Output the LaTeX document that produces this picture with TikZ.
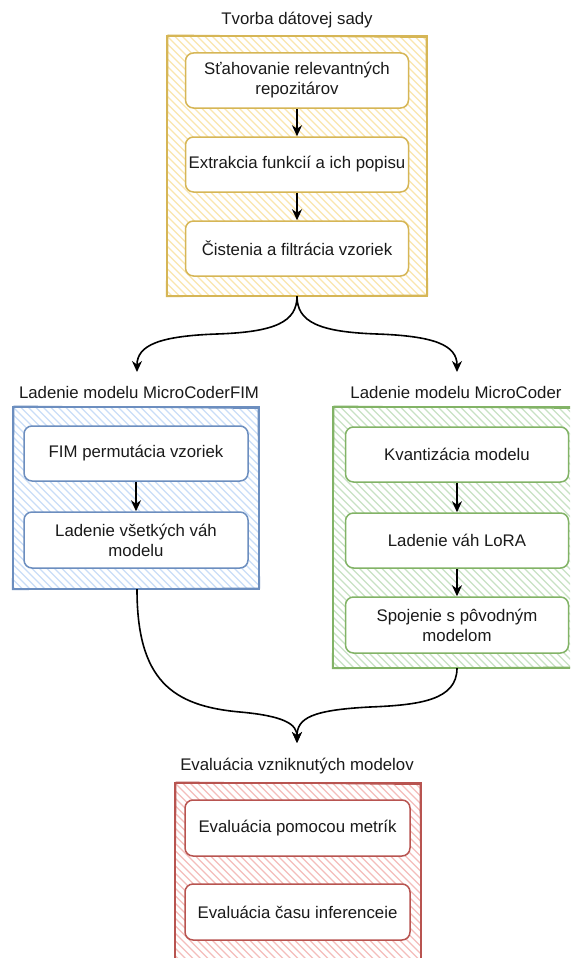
\documentclass[tikz,border=0pt]{standalone}
\usepackage{fontspec}
\setmainfont{Liberation Sans}
\usetikzlibrary{arrows.meta}
\definecolor{yS}{HTML}{D6B656}\definecolor{yF}{HTML}{FAE6AE}
\definecolor{bS}{HTML}{6C8EBF}\definecolor{bF}{HTML}{C9DDF8}
\definecolor{gS}{HTML}{82B366}\definecolor{gF}{HTML}{C8E2C4}
\definecolor{rS}{HTML}{B85450}\definecolor{rF}{HTML}{F4BDBB}
\definecolor{txt}{HTML}{1A1A1A}
\newcommand\myhatch[5]{%
  \begin{scope}
    \clip (#1,#2) rectangle (#3,#4);
    \foreach \k in {0,7.5,...,560} \draw[#5,line width=1.4pt] ({#1-300+\k},#2) -- ++(300,300);
  \end{scope}}
\newcommand\myframe[5]{%
  \draw[#5,line width=1.5pt] (#1,#2) rectangle (#3,#4);
  \draw[#5,line width=1pt] ({#1+1},{#2-1}) -- ({#3-1},{#2+1.5}) -- ({#3+0.6},{#4-1}) -- ({#1-0.6},{#4+0.6}) -- cycle;}
\tikzset{
  box/.style={draw, fill=white, rounded corners=8pt, minimum width=223pt, minimum height=55pt,
    line width=1.5pt, align=center, text=txt, font=\fontsize{16.8}{20}\selectfont, inner sep=2pt},
  ttl/.style={text=txt, font=\fontsize{16.8}{20}\selectfont, inner sep=0pt},
  cont/.style={inner sep=0pt},
  arr/.style={-{Stealth[length=11pt,width=10pt,inset=3.5pt]}, line width=1.6pt, black},
}
\begin{document}
\begin{tikzpicture}[x=1pt,y=-1pt]
\useasboundingbox (0,0) rectangle (570,958);
\fill[white] (0,0) rectangle (570,958);
\clip (0,0) rectangle (570,958);
% hatching and frames
\myhatch{167}{36}{427}{296}{yF}
\myhatch{13}{407}{259}{589}{bF}
\myhatch{333}{407}{580}{668}{gF}
\myhatch{175}{783}{421}{975}{rF}
\myframe{167}{36}{427}{296}{yS}
\myframe{13}{407}{259}{589}{bS}
\myframe{333}{407}{580}{668}{gS}
\myframe{175}{783}{421}{975}{rS}
% container anchors
\node[cont, minimum width=260pt, minimum height=260pt] (yc) at (297,166) {};
\node[cont, minimum width=246pt, minimum height=182pt] (bc) at (137,498) {};
\node[cont, minimum width=247pt, minimum height=261pt] (gc) at (457,537.5) {};
\node[cont, minimum width=246pt, minimum height=192pt] (rc) at (298,879) {};
% titles
\node[ttl] (yt) at (297,20) {Tvorba dátovej sady};
\node[ttl] (bt) at (139,392) {Ladenie modelu MicroCoderFIM};
\node[ttl] (gt) at (456,392) {Ladenie modelu MicroCoder};
\node[ttl] (rt) at (297,766) {Evaluácia vzniknutých modelov};
% inner boxes
\node[box, draw=yS] (y1) at (297,80.5) {Sťahovanie relevantných\\repozitárov};
\node[box, draw=yS] (y2) at (297,164.5) {Extrakcia funkcií a ich popisu};
\node[box, draw=yS] (y3) at (297,248.5) {Čistenia a filtrácia vzoriek};
\node[box, draw=bS, minimum width=224pt] (b1) at (136,453.5) {FIM permutácia vzoriek};
\node[box, draw=bS, minimum width=224pt, minimum height=56pt] (b2) at (136,540) {Ladenie všetkých váh\\modelu};
\node[box, draw=gS] (g1) at (457,454.5) {Kvantizácia modelu};
\node[box, draw=gS] (g2) at (457,540.5) {Ladenie váh LoRA};
\node[box, draw=gS, minimum height=56pt] (g3) at (457,625) {Spojenie s pôvodným\\modelom};
\node[box, draw=rS, minimum width=225pt, minimum height=56pt] (r1) at (297.5,828) {Evaluácia pomocou metrík};
\node[box, draw=rS, minimum width=225pt, minimum height=56pt] (r2) at (297.5,912) {Evaluácia času inferenceie};
% straight arrows
\draw[arr] (y1) -- (y2);
\draw[arr] (y2) -- (y3);
\draw[arr] (b1) -- (b2);
\draw[arr] (g1) -- (g2);
\draw[arr] (g2) -- (g3);
% curved arrows
\coordinate (bin) at (137,372);
\coordinate (gin) at (457,372);
\coordinate (rin) at (297,743);
\draw[arr] (yc.south) .. controls (297,322) and (275,332) .. (217,334) .. controls (160,336) and (137,345) .. (bin);
\draw[arr] (yc.south) .. controls (297,322) and (319,332) .. (377,334) .. controls (434,336) and (457,345) .. (gin);
\draw[arr] (bc.south) .. controls (137,680) and (172,706) .. (240,712) .. controls (284,716) and (297,724) .. (rin);
\draw[arr] (gc.south) .. controls (457,700) and (420,705) .. (370,707) .. controls (312,710) and (297,718) .. (rin);
\end{tikzpicture}
\end{document}
